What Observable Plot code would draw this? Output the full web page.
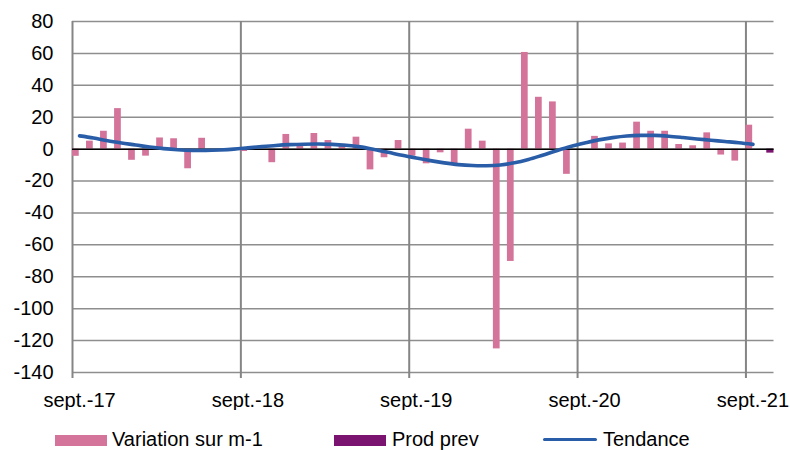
<!DOCTYPE html>
<html>
<head>
<meta charset="utf-8">
<script src="https://cdn.jsdelivr.net/npm/d3@7"></script>
<script src="https://cdn.jsdelivr.net/npm/@observablehq/plot@0.6"></script>
<style>
  body { margin: 0; background: white; }
  #wrap { position: relative; width: 790px; height: 450px; font-family: "Liberation Sans", Arial, sans-serif; color: #000; }
  #wrap svg text { font-size: 20px; font-family: "Liberation Sans", Arial, sans-serif; }
  .sw { position: absolute; }
  .lt { position: absolute; font-size: 20px; line-height: 20px; white-space: nowrap; }
</style>
</head>
<body>
<div id="wrap"></div>
<script>
const months = [
  "sept.-17","oct.-17","nov.-17","déc.-17","janv.-18","févr.-18","mars-18","avr.-18","mai-18","juin-18","juil.-18","août-18",
  "sept.-18","oct.-18","nov.-18","déc.-18","janv.-19","févr.-19","mars-19","avr.-19","mai-19","juin-19","juil.-19","août-19",
  "sept.-19","oct.-19","nov.-19","déc.-19","janv.-20","févr.-20","mars-20","avr.-20","mai-20","juin-20","juil.-20","août-20",
  "sept.-20","oct.-20","nov.-20","déc.-20","janv.-21","févr.-21","mars-21","avr.-21","mai-21","juin-21","juil.-21","août-21",
  "sept.-21","oct.-21"
];
const variation = [
  -4.5, 5, 11.2, 25.4, -7, -4.4, 7, 6.5, -12.3, 6.8, 0, 0,
  -1.5, 0, -8.5, 9.2, 3.5, 9.8, 5.4, 3, 7.5, -13, -5.4, 5.4,
  -4.4, -9.2, -2.3, -9.6, 12.5, 5, -125.2, -70.4, 60.6, 32.5, 29.6, -15.8,
  0, 8, 3.3, 3.8, 16.9, 11.2, 11.2, 2.9, 2.1, 10.2, -3.7, -7.5,
  15, null
];
const prodPrev = [
  null,null,null,null,null,null,null,null,null,null,null,null,
  null,null,null,null,null,null,null,null,null,null,null,null,
  null,null,null,null,null,null,null,null,null,null,null,null,
  null,null,null,null,null,null,null,null,null,null,null,null,
  null, -2.5
];
const tendance = [
  8.3, 7.0, 5.2, 3.8, 2.6, 1.3, 0.3, -0.4, -0.8, -0.8, -0.5, 0.0,
  0.8, 1.6, 2.3, 2.8, 3.1, 3.2, 3.0, 2.4, 1.4, -0.2, -2.0, -3.9,
  -5.6, -7.2, -8.6, -9.7, -10.3, -10.4, -9.9, -8.6, -6.5, -3.8, -1.0, 1.6,
  3.8, 5.8, 7.2, 8.2, 8.6, 8.6, 8.1, 7.3, 6.4, 5.6, 4.8, 4.0,
  3.0, null
];
const xTickLabels = ["sept.-17","sept.-18","sept.-19","sept.-20","sept.-21"];
const yTicks = [80, 60, 40, 20, 0, -20, -40, -60, -80, -100, -120, -140];

const data = months.map((m, i) => ({i, m, v: variation[i], p: prodPrev[i], t: tendance[i]}));
const septIdx = data.filter(d => xTickLabels.includes(d.m)).map(d => d.i);

const chart = Plot.plot({
  width: 790,
  height: 410,
  marginTop: 21,
  marginBottom: 38,
  marginLeft: 72,
  marginRight: 16.5,
  style: {background: "white", color: "black", fontSize: "20px", fontFamily: "Liberation Sans, Arial, sans-serif"},
  x: {domain: [0, months.length], ticks: septIdx.map(d => d + 0.5), tickFormat: d => months[Math.round(d - 0.5)], tickSize: 0, tickPadding: 20, label: null},
  y: {domain: [-140, 80], ticks: yTicks, tickFormat: d => String(d), tickSize: 0, tickPadding: 19, label: null},
  marks: [
    Plot.ruleY(yTicks, {y: d => d, stroke: "#8e8e8e", strokeWidth: 1.5}),
    Plot.ruleX(septIdx, {x: d => d, stroke: "#858585", strokeWidth: 2, insetBottom: -6}),
    Plot.rect(data.filter(d => d.v != null), {x1: d => d.i, x2: d => d.i + 1, y1: 0, y2: "v", fill: "#d4749a", insetLeft: 0, insetRight: 7.3}),
    Plot.rect(data.filter(d => d.p != null), {x1: d => d.i, x2: d => d.i + 1, y1: 0, y2: "p", fill: "#7b1470", insetLeft: 6.8, insetRight: 0}),
    Plot.ruleY([0], {y: d => d, stroke: "black", strokeWidth: 1.5}),
    Plot.line(data.filter(d => d.t != null), {x: d => d.i + 0.5, y: "t", stroke: "#2a5da8", strokeWidth: 3.6, curve: "catmull-rom"})
  ]
});

const wrap = document.getElementById("wrap");
wrap.appendChild(chart);

const legend = [
  {label: "Variation sur m-1", type: "rect", color: "#d4749a", sx: 55, tx: 112},
  {label: "Prod prev", type: "rect", color: "#7b1470", sx: 334, tx: 392},
  {label: "Tendance", type: "line", color: "#2a5da8", sx: 543, tx: 603}
];
for (const l of legend) {
  const s = document.createElement("div");
  s.className = "sw";
  s.style.left = l.sx + "px";
  s.style.background = l.color;
  if (l.type === "rect") {
    s.style.top = "435px"; s.style.width = "52px"; s.style.height = "11px";
  } else {
    s.style.top = "437.5px"; s.style.width = "54px"; s.style.height = "3.6px"; s.style.borderRadius = "2px";
  }
  wrap.appendChild(s);
  const t = document.createElement("div");
  t.className = "lt";
  t.style.left = l.tx + "px";
  t.style.top = "428.5px";
  t.textContent = l.label;
  wrap.appendChild(t);
}
</script>
</body>
</html>
